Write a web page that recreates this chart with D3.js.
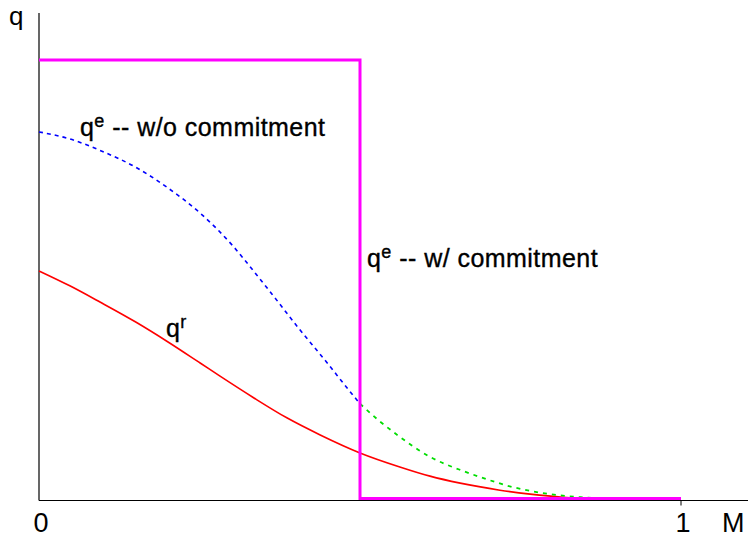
<!DOCTYPE html>
<html>
<head>
<meta charset="utf-8">
<script src="https://cdn.jsdelivr.net/npm/d3@7"></script>
<style>
  html, body { margin: 0; padding: 0; background: #fff; }
  svg { display: block; }
  text { font-family: "Liberation Sans", Arial, sans-serif; fill: #000; }
  .lbl { stroke: #000; stroke-width: 0.35px; letter-spacing: 0.45px; }
</style>
</head>
<body>
<svg id="chart" width="748" height="537"></svg>
<script>
// Equilibrium quality q against the share M.
// q^e without commitment (blue where it lies under the commitment path, green beyond it)
const qeNoCommitX = [0, 0.048, 0.098, 0.150, 0.201, 0.254, 0.302, 0.333, 0.363, 0.403, 0.449, 0.480, 0.5];
const qeNoCommitY = [0.836, 0.820, 0.792, 0.756, 0.708, 0.647, 0.576, 0.521, 0.466, 0.391, 0.309, 0.252, 0.216];
const qeTailX = [0.5, 0.530, 0.558, 0.609, 0.660, 0.687, 0.738, 0.791, 0.843, 0.874];
const qeTailY = [0.216, 0.177, 0.145, 0.095, 0.063, 0.049, 0.026, 0.011, 0.003, 0];
// q^r
const qrX = [0, 0.048, 0.095, 0.150, 0.201, 0.251, 0.282, 0.333, 0.386, 0.438, 0.5, 0.562, 0.609, 0.656, 0.718, 0.765, 0.816, 0.874];
const qrY = [0.519, 0.485, 0.448, 0.403, 0.357, 0.309, 0.279, 0.231, 0.184, 0.145, 0.104, 0.072, 0.051, 0.035, 0.019, 0.010, 0.003, 0];
// q^e with commitment: a step at M = 0.5
const qeCommitX = [0, 0.5, 0.5, 1];
const qeCommitY = [1, 1, 0, 0];
// axis tick labels
const xTicks = [0, 1];
const xTickLabels = ["0", "1"];

const svg = d3.select("#chart");
const x = d3.scaleLinear().domain([0, 1]).range([39, 681]);
const y = d3.scaleLinear().domain([0, 1.1]).range([498.5, 498.5 - 438.5 * 1.1]);

const zip = (xs, ys) => xs.map((v, i) => [v, ys[i]]);
const smooth = d3.line().x(d => x(d[0])).y(d => y(d[1])).curve(d3.curveMonotoneX);
const straight = d3.line().x(d => x(d[0])).y(d => y(d[1]));

// axes
const axisY = y(0) + 2;
svg.append("line").attr("x1", x(0)).attr("x2", 748).attr("y1", axisY).attr("y2", axisY)
  .attr("stroke", "#000").attr("stroke-width", 1.2);
svg.append("line").attr("x1", x(0)).attr("x2", x(0)).attr("y1", 13).attr("y2", axisY)
  .attr("stroke", "#000").attr("stroke-width", 1.2);
svg.selectAll(".tick").data(xTicks.filter(t => t > 0)).enter().append("line")
  .attr("x1", d => x(d)).attr("x2", d => x(d)).attr("y1", axisY).attr("y2", axisY + 5)
  .attr("stroke", "#000").attr("stroke-width", 1);
svg.selectAll(".ticklabel").data(xTicks).enter().append("text")
  .attr("x", d => x(d) + 2).attr("y", 532)
  .attr("text-anchor", "middle").attr("font-size", 27)
  .text((d, i) => xTickLabels[i]);
svg.append("text").attr("x", 722).attr("y", 532).attr("font-size", 27).text("M");
svg.append("text").attr("x", 9).attr("y", 25).attr("font-size", 26).text("q");

// curves
svg.append("path").attr("d", smooth(zip(qrX, qrY)))
  .attr("fill", "none").attr("stroke", "#ff0000").attr("stroke-width", 1.6);
svg.append("path").attr("d", smooth(zip(qeTailX, qeTailY)))
  .attr("fill", "none").attr("stroke", "#00dd00").attr("stroke-width", 1.8)
  .attr("stroke-dasharray", "4,5");
svg.append("path").attr("d", smooth(zip(qeNoCommitX, qeNoCommitY)))
  .attr("fill", "none").attr("stroke", "#0000ff").attr("stroke-width", 1.6)
  .attr("stroke-dasharray", "4,4");
svg.append("path").attr("d", straight(zip(qeCommitX, qeCommitY)))
  .attr("fill", "none").attr("stroke", "#ff00ff").attr("stroke-width", 3);

// labels
function label(px, py, sup, rest) {
  const t = svg.append("text").attr("class", "lbl").attr("x", px).attr("y", py).attr("font-size", 25);
  t.append("tspan").text("q");
  t.append("tspan").attr("dy", -9).attr("font-size", 18).text(sup);
  if (rest) t.append("tspan").attr("dy", 9).text(rest);
}
label(80, 136, "e", " -- w/o commitment");
label(367, 267, "e", " -- w/ commitment");
label(166, 337, "r", "");
</script>
</body>
</html>
